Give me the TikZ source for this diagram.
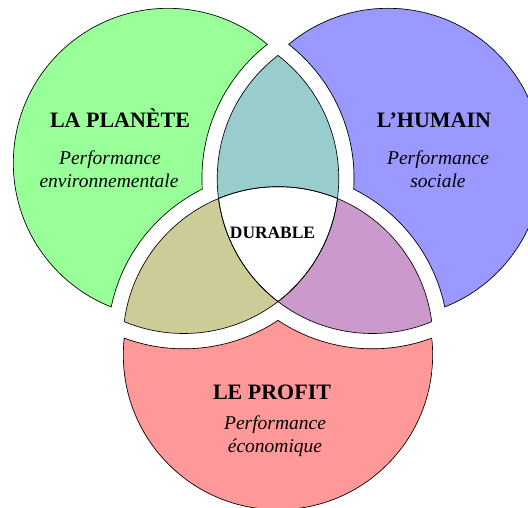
\documentclass[tikz,border=0pt]{standalone}
\usepackage{fontspec}
\setmainfont{Liberation Serif}
\definecolor{cgreen}{HTML}{99FF99}
\definecolor{cblue}{HTML}{9999FF}
\definecolor{cred}{HTML}{FF9999}
\definecolor{cteal}{HTML}{99CCCC}
\definecolor{colive}{HTML}{CCCC99}
\definecolor{cpurple}{HTML}{CC99CC}
\newcommand\outclip[2]{\clip (-50,-50) -- (-50,600) -- (600,600) -- (600,-50) -- cycle (#1) circle (#2);}
\tikzset{
  lobeline/.style={draw=black, line width=1.3pt},
  innerline/.style={draw=black, line width=0.65pt},
  title/.style={font=\fontsize{22}{26}\selectfont\bfseries, inner sep=0pt, anchor=base},
  sub/.style={font=\fontsize{19.5}{23}\selectfont\itshape, inner sep=0pt, anchor=base},
}
\begin{document}
\begin{tikzpicture}[x=1pt,y=1pt]
\useasboundingbox (0,0) rectangle (528,508);
\clip (0,0) rectangle (528,508);
% inner circles
\coordinate (A) at (183.75,329.5);
\coordinate (B) at (372.25,329.5);
\coordinate (C) at (278,166.3);
% outer lobe circles
\coordinate (G) at (168,345);
\coordinate (H) at (388,345);
\coordinate (P) at (278,153);
\def\R{155}
\def\Rc{170}
% green lobe
\begin{scope}
  \clip (G) circle (\R);
  \outclip{B}{\Rc}
  \outclip{C}{\Rc}
  \fill[cgreen] (G) circle (\R);
  \path[lobeline] (G) circle (\R) (B) circle (\Rc) (C) circle (\Rc);
\end{scope}
% blue lobe
\begin{scope}
  \clip (H) circle (\R);
  \outclip{A}{\Rc}
  \outclip{C}{\Rc}
  \fill[cblue] (H) circle (\R);
  \path[lobeline] (H) circle (\R) (A) circle (\Rc) (C) circle (\Rc);
\end{scope}
% red lobe
\begin{scope}
  \clip (P) circle (\R);
  \outclip{A}{\Rc}
  \outclip{B}{\Rc}
  \fill[cred] (P) circle (\R);
  \path[lobeline] (P) circle (\R) (A) circle (\Rc) (B) circle (\Rc);
\end{scope}
% lenses
\begin{scope}\clip (A) circle (\R); \fill[cteal] (B) circle (\R);\end{scope}
\begin{scope}\clip (A) circle (\R); \fill[colive] (C) circle (\R);\end{scope}
\begin{scope}\clip (B) circle (\R); \fill[cpurple] (C) circle (\R);\end{scope}
\begin{scope}\clip (A) circle (\R); \clip (B) circle (\R); \fill[white] (C) circle (\R);\end{scope}
% inner strokes
\begin{scope}\clip (B) circle (\R); \path[innerline] (A) circle (\R);\end{scope}
\begin{scope}\clip (C) circle (\R); \path[innerline] (A) circle (\R);\end{scope}
\begin{scope}\clip (A) circle (\R); \path[innerline] (B) circle (\R);\end{scope}
\begin{scope}\clip (C) circle (\R); \path[innerline] (B) circle (\R);\end{scope}
\begin{scope}\clip (A) circle (\R); \path[innerline] (C) circle (\R);\end{scope}
\begin{scope}\clip (B) circle (\R); \path[innerline] (C) circle (\R);\end{scope}
% texts
\node[title] (t1) at (120,380) {LA PLANÈTE};
\node[sub] (s1a) at (110,343) {Performance};
\node[sub] (s1b) at (109,320) {environnementale};
\node[title] (t2) at (434,380) {L’HUMAIN};
\node[sub] (s2a) at (438,343) {Performance};
\node[sub] (s2b) at (438,320) {sociale};
\node[title, font=\fontsize{17.4}{20}\selectfont\bfseries] (d) at (272.5,269) {DURABLE};
\node[title] (t3) at (272,108) {LE PROFIT};
\node[sub] (s3a) at (275,78) {Performance};
\node[sub] (s3b) at (275,55) {économique};
\end{tikzpicture}
\end{document}
